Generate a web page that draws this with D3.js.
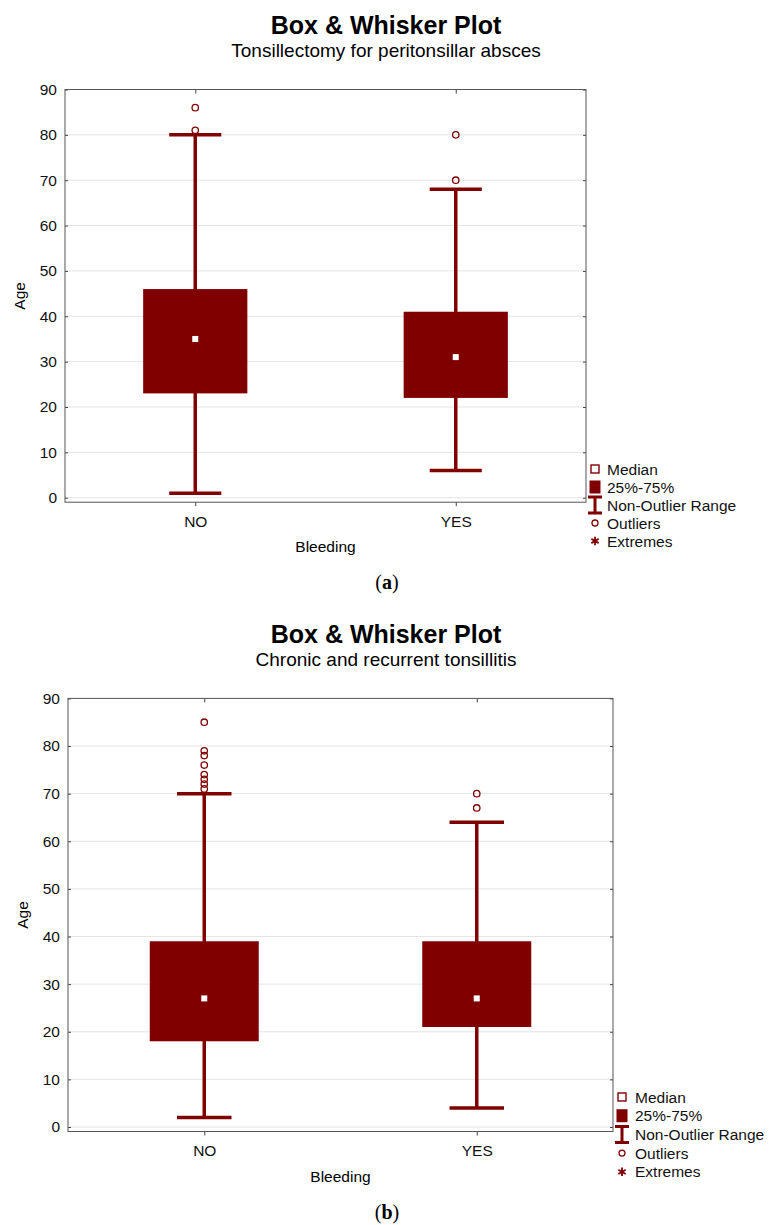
<!DOCTYPE html>
<html>
<head>
<meta charset="utf-8">
<script src="https://cdn.jsdelivr.net/npm/d3@7"></script>
<style>
  body { margin: 0; background: #fff; }
  svg { display: block; font-family: "Liberation Sans", Arial, sans-serif; }
</style>
</head>
<body>
<svg id="chart" width="774" height="1225"></svg>
<script>
// data
const categories = ["NO", "YES"];
const yTicks = [0, 10, 20, 30, 40, 50, 60, 70, 80, 90];

// (a) Tonsillectomy for peritonsillar absces
const aMin = [1, 6];
const aQ1 = [23, 22];
const aMedian = [35, 31];
const aQ3 = [46, 41];
const aMax = [80, 68];
const aOutliers = [[81, 86], [70, 80]];

// (b) Chronic and recurrent tonsillitis
const bMin = [2, 4];
const bQ1 = [18, 21];
const bMedian = [27, 27];
const bQ3 = [39, 39];
const bMax = [70, 64];
const bOutliers = [[71, 72, 73, 74, 76, 78, 79, 85], [67, 70]];

const legendLabels = ["Median", "25%-75%", "Non-Outlier Range", "Outliers", "Extremes"];

const red = "#800000";
const svg = d3.select("#chart");

function drawPanel(p) {
  const g = svg.append("g");

  const x = d3.scalePoint().domain(categories).range([p.left, p.right]).padding(0.5);
  const y = d3.scaleLinear().domain([0, 90]).range([p.y0, p.y90]);
  const step = x.step();
  const bottom = p.y0 + 4.5;

  // titles
  g.append("text").attr("x", 386).attr("y", p.y90 - 55.5)
    .attr("text-anchor", "middle").style("font-size", "25px").style("font-weight", "bold")
    .text("Box & Whisker Plot");
  g.append("text").attr("x", 386).attr("y", p.y90 - 32.5)
    .attr("text-anchor", "middle").style("font-size", "19px")
    .text(p.subtitle);

  // grid
  g.selectAll(".grid").data(yTicks.filter(d => d < 90)).join("line")
    .attr("x1", p.left).attr("x2", p.right)
    .attr("y1", d => y(d)).attr("y2", d => y(d))
    .attr("stroke", "#e4e4e4").attr("stroke-width", 1);

  // axes
  const left = g.append("g").attr("transform", `translate(${p.left},0)`)
    .call(d3.axisLeft(y).tickValues(yTicks).tickSize(-3).tickPadding(8));
  const right = g.append("g").attr("transform", `translate(${p.right},0)`)
    .call(d3.axisRight(y).tickValues(yTicks).tickSize(-3).tickFormat(""));
  const top = g.append("g").attr("transform", `translate(0,${p.y90})`)
    .call(d3.axisTop(x).tickSize(-4).tickFormat(""));
  const bot = g.append("g").attr("transform", `translate(0,${bottom})`)
    .call(d3.axisBottom(x).tickSize(4).tickPadding(9.5));
  [left, right, top, bot].forEach(a => {
    a.select(".domain").remove();
    a.selectAll("line").attr("stroke", "#444");
    a.selectAll("text").style("font-size", "15.5px").attr("fill", "#111")
      .style("font-family", "'Liberation Sans', Arial, sans-serif");
  });

  // frame
  g.append("rect").attr("x", p.left).attr("y", p.y90)
    .attr("width", p.right - p.left).attr("height", bottom - p.y90)
    .attr("fill", "none").attr("stroke", "#555").attr("stroke-width", 1);

  // axis titles
  g.append("text").attr("transform", `translate(${p.left - 40},${(p.y90 + bottom) / 2}) rotate(-90)`)
    .attr("text-anchor", "middle").style("font-size", "15.5px").text("Age");
  g.append("text").attr("x", (p.left + p.right) / 2).attr("y", bottom + 50)
    .attr("text-anchor", "middle").style("font-size", "15.5px").text("Bleeding");

  // boxes
  const boxW = step * 0.4, capW = step * 0.2;
  categories.forEach((c, i) => {
    const cx = x(c);
    g.append("line").attr("x1", cx).attr("x2", cx)
      .attr("y1", y(p.min[i])).attr("y2", y(p.max[i]))
      .attr("stroke", red).attr("stroke-width", 3.5);
    [p.min[i], p.max[i]].forEach(v => {
      g.append("line").attr("x1", cx - capW / 2).attr("x2", cx + capW / 2)
        .attr("y1", y(v)).attr("y2", y(v))
        .attr("stroke", red).attr("stroke-width", 3.5);
    });
    g.append("rect").attr("x", cx - boxW / 2).attr("y", y(p.q3[i]))
      .attr("width", boxW).attr("height", y(p.q1[i]) - y(p.q3[i]))
      .attr("fill", red);
    g.append("rect").attr("x", cx - 3).attr("y", y(p.median[i]) - 3)
      .attr("width", 6).attr("height", 6).attr("fill", "#fff");
    g.selectAll(null).data(p.outliers[i]).join("circle")
      .attr("cx", cx).attr("cy", d => y(d)).attr("r", 3.2)
      .attr("fill", "none").attr("stroke", red).attr("stroke-width", 1.3);
  });

  // legend
  const lg = g.append("g").attr("transform", `translate(${p.legendX},${p.legendY})`);
  legendLabels.forEach((t, i) => {
    const row = lg.append("g").attr("transform", `translate(0,${i * p.legendStep})`);
    if (i === 0) {
      row.append("rect").attr("x", -4).attr("y", -4).attr("width", 8).attr("height", 8)
        .attr("fill", "#fff").attr("stroke", red).attr("stroke-width", 1.4);
    } else if (i === 1) {
      row.append("rect").attr("x", -5.5).attr("y", -6.5).attr("width", 11).attr("height", 13)
        .attr("fill", red);
    } else if (i === 2) {
      row.append("path").attr("d", "M-7,-8H7M0,-8V8M-7,8H7")
        .attr("stroke", red).attr("stroke-width", 3).attr("fill", "none");
    } else if (i === 3) {
      row.append("circle").attr("r", 3).attr("fill", "none")
        .attr("stroke", red).attr("stroke-width", 1.3);
    } else {
      row.append("path").attr("d", d3.symbol(d3.symbolAsterisk, 50)())
        .attr("stroke", red).attr("stroke-width", 1.8).attr("fill", "none");
    }
    row.append("text").attr("x", p.legendText).attr("y", 5.5)
      .style("font-size", "15.5px").attr("fill", "#111").text(t);
  });

  // panel letter
  const lt = g.append("text").attr("x", 387).attr("y", bottom + 87)
    .attr("text-anchor", "middle").style("font-family", "'Liberation Serif', 'Times New Roman', serif")
    .style("font-size", "20px");
  lt.append("tspan").text("(");
  lt.append("tspan").style("font-weight", "bold").text(p.letter);
  lt.append("tspan").text(")");
}

drawPanel({
  subtitle: "Tonsillectomy for peritonsillar absces", letter: "a",
  left: 65, right: 586, y90: 89.5, y0: 497.7,
  legendX: 595, legendY: 469, legendStep: 18, legendText: 12,
  min: aMin, q1: aQ1, median: aMedian, q3: aQ3, max: aMax, outliers: aOutliers
});

drawPanel({
  subtitle: "Chronic and recurrent tonsillitis", letter: "b",
  left: 68, right: 613, y90: 698.4, y0: 1127,
  legendX: 622, legendY: 1097, legendStep: 18.7, legendText: 13,
  min: bMin, q1: bQ1, median: bMedian, q3: bQ3, max: bMax, outliers: bOutliers
});
</script>
</body>
</html>
